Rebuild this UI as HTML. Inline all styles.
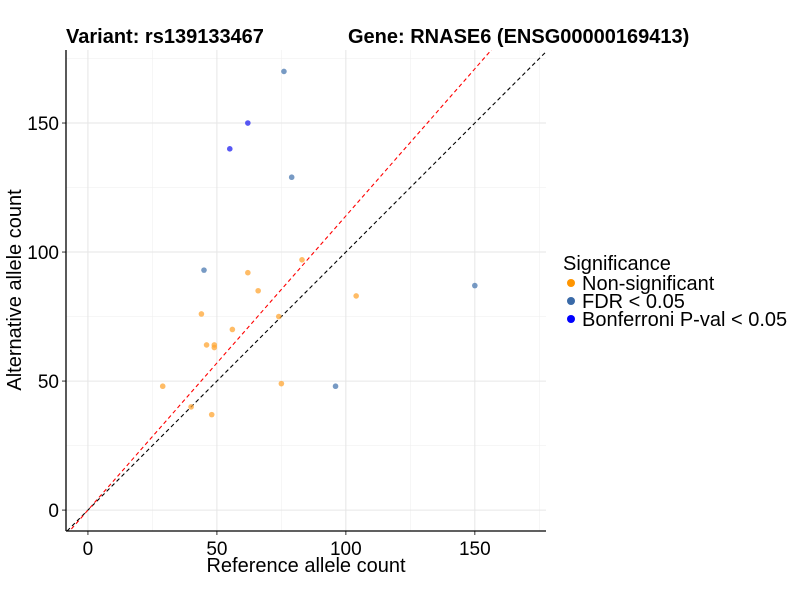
<!DOCTYPE html>
<html><head><meta charset="utf-8"><style>
body{margin:0;background:#fff}
svg text{font-family:"Liberation Sans",Arial,sans-serif}
</style></head><body>
<svg id="c" width="800" height="600" xmlns="http://www.w3.org/2000/svg"></svg>
<script>
const refCounts=[45,62,83,66,104,44,74,56,46,49,49,29,75,96,40,48,76,79,62,55,150];
const altCounts=[93,92,97,85,83,76,75,70,64,64,63,48,49,48,40,37,170,129,150,140,87];
const sigClass=["fdr","ns","ns","ns","ns","ns","ns","ns","ns","ns","ns","ns","ns","fdr","ns","ns","fdr","fdr","bonf","bonf","fdr"];
const xTicks=[0,50,100,150];
const yTicks=[0,50,100,150];
const xMinor=[25,75,125,175];
const yMinor=[25,75,125,175];
const colors={ns:"#FFA533",fdr:"#4A78B0",bonf:"#2020F0"};
const svg=document.getElementById('c');
const NS='http://www.w3.org/2000/svg';
const L=66,R=546,T=50,B=531;
const xMin=-8.5,xMax=177.6,yMin=-8.1,yMax=178.3;
const sx=v=>L+(v-xMin)/(xMax-xMin)*(R-L);
const sy=v=>B-(v-yMin)/(yMax-yMin)*(B-T);
function el(t,a,p){const e=document.createElementNS(NS,t);for(const k in a)e.setAttribute(k,a[k]);(p||svg).appendChild(e);return e;}
const defs=el('defs',{});const cp=el('clipPath',{id:'cp'},defs);el('rect',{x:L,y:T,width:R-L,height:B-T},cp);
xMinor.forEach(v=>{const g=el('line',{x1:sx(v),x2:sx(v),y1:T,y2:B,stroke:'#f0f0f0','stroke-width':0.6});

});
yMinor.forEach(v=>{const g=el('line',{y1:sy(v),y2:sy(v),x1:L,x2:R,stroke:'#f0f0f0','stroke-width':0.6});

});
xTicks.forEach(v=>{const g=el('line',{x1:sx(v),x2:sx(v),y1:T,y2:B,stroke:'#e6e6e6','stroke-width':1});


const tk=el('line',{x1:sx(v),x2:sx(v),y1:B,y2:B+4,stroke:'#333'});


const t=el('text',{x:sx(v),y:B+24,'text-anchor':'middle','font-size':19,fill:'#000'});t.textContent=v;

});
yTicks.forEach(v=>{const g=el('line',{y1:sy(v),y2:sy(v),x1:L,x2:R,stroke:'#e6e6e6','stroke-width':1});


const tk=el('line',{y1:sy(v),y2:sy(v),x1:L-4,x2:L,stroke:'#333'});


const t=el('text',{x:L-7,y:sy(v)+7,'text-anchor':'end','font-size':19,fill:'#000'});t.textContent=v;

});
const g=el('g',{'clip-path':'url(#cp)'});
const l1=el('line',{x1:sx(-10),y1:sy(-10),x2:sx(200),y2:sy(200),stroke:'#000','stroke-dasharray':'4,3','stroke-width':1.1},g);


const l2=el('line',{x1:sx(-10),y1:sy(-11.4),x2:sx(200),y2:sy(228),stroke:'#f00','stroke-dasharray':'4,3','stroke-width':1.1},g);


refCounts.forEach((r,i)=>{const c=el('circle',{cx:sx(r),cy:sy(altCounts[i]),r:2.8,fill:colors[sigClass[i]],'fill-opacity':0.75});

});
const ax=el('line',{x1:L,x2:R,y1:B,y2:B,stroke:'#000','stroke-width':1.3});


const ay=el('line',{x1:L,x2:L,y1:T,y2:B,stroke:'#000','stroke-width':1.3});


</script>
<svg style="position:absolute;left:0;top:0" width="800" height="600">
<text x="66" y="43" font-size="20" font-weight="bold" font-family="Liberation Sans,sans-serif">Variant: rs139133467</text>
<text x="348" y="43" font-size="20" font-weight="bold" font-family="Liberation Sans,sans-serif">Gene: RNASE6 (ENSG00000169413)</text>
<text x="306" y="572" font-size="20" text-anchor="middle" font-family="Liberation Sans,sans-serif">Reference allele count</text>
<text transform="translate(21,290) rotate(-90)" font-size="20" text-anchor="middle" font-family="Liberation Sans,sans-serif">Alternative allele count</text>
<g font-family="Liberation Sans,sans-serif" font-size="20">
<text x="563" y="270">Significance</text>
<circle cx="571" cy="283" r="4" fill="#FF9500"/>
<text x="582" y="290">Non-significant</text>
<circle cx="571" cy="301" r="4" fill="#3A6AA8"/>
<text x="582" y="308">FDR &lt; 0.05</text>
<circle cx="571" cy="319" r="4" fill="#0000FF"/>
<text x="582" y="326">Bonferroni P-val &lt; 0.05</text>
</g>
</svg>
</body></html>
